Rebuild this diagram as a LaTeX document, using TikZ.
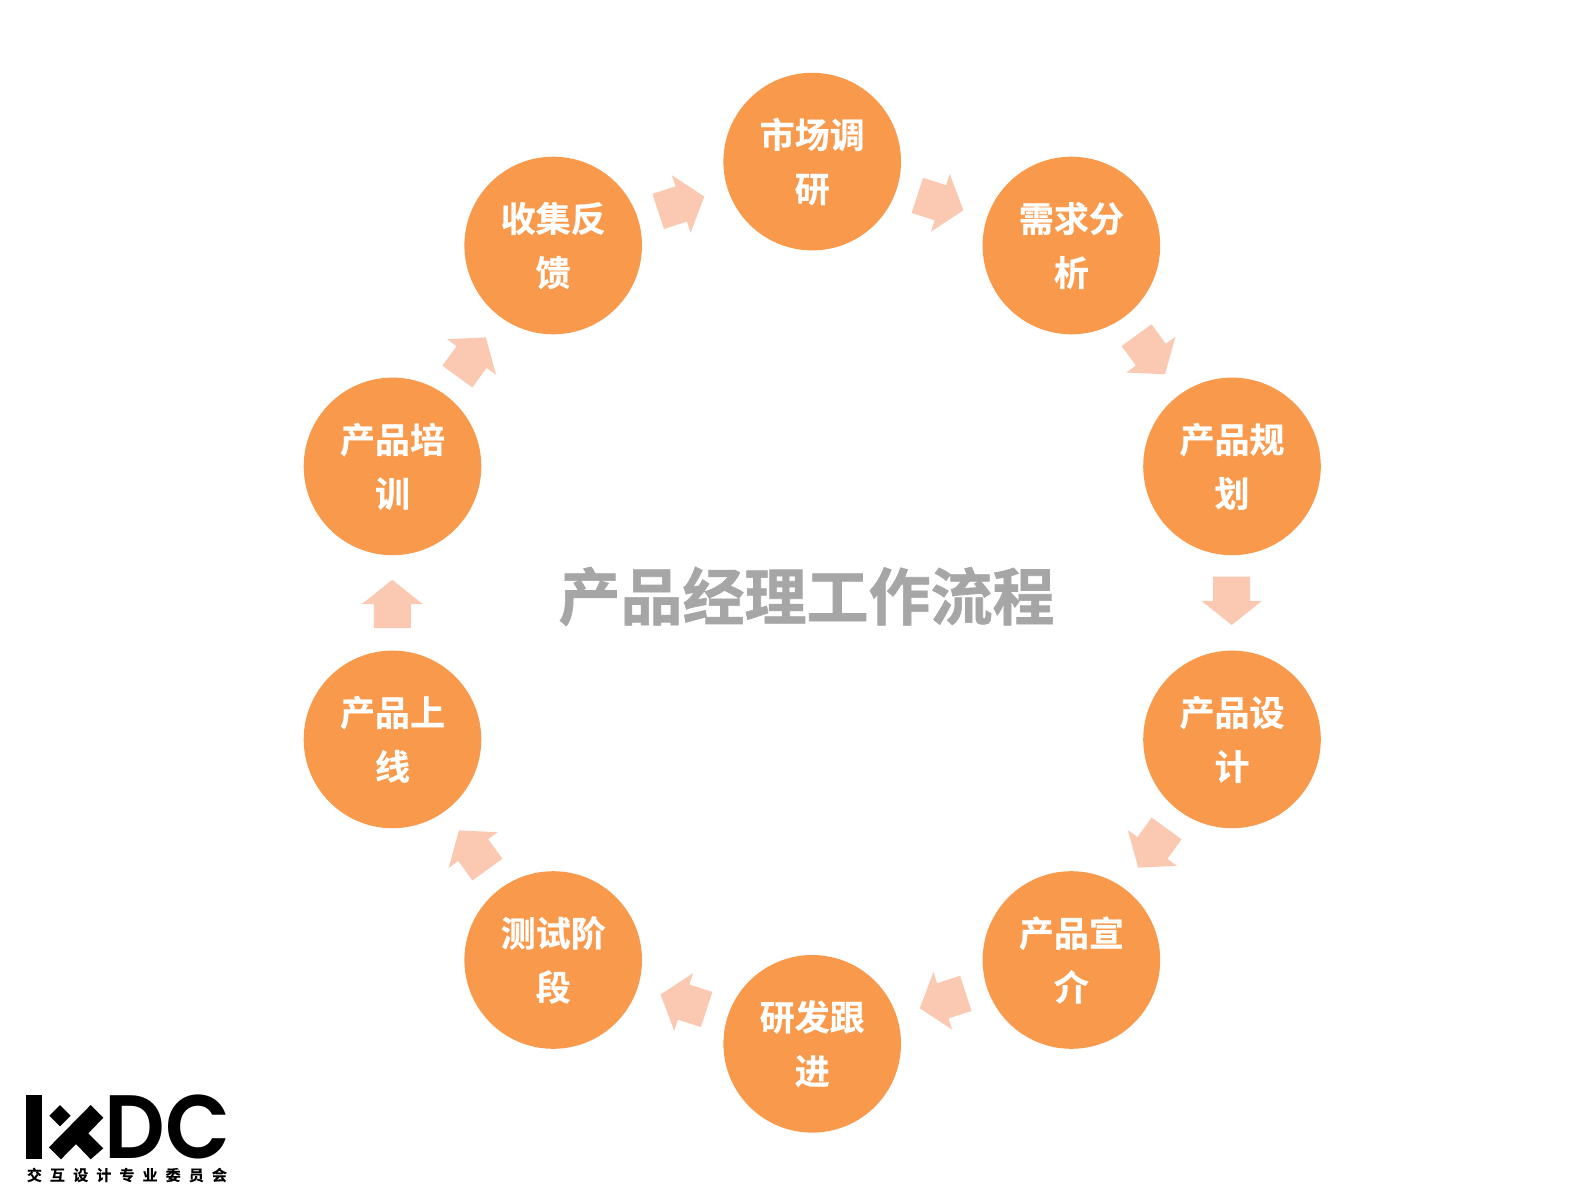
\documentclass[tikz,border=0pt]{standalone}
\usepackage{fontspec}
\setmainfont{Noto Sans CJK SC}
\newfontfamily\cjkbold{Noto Sans CJK SC Bold}[FakeBold=0.5]
\newfontfamily\cjktitle{Noto Sans CJK SC Bold}[FakeBold=1]
\newfontfamily\logofont{Poppins SemiBold}
\definecolor{orangefill}{HTML}{F9994B}
\definecolor{arrowfill}{HTML}{FBC9B1}
\definecolor{titlegray}{HTML}{A6A6A6}
\tikzset{
  stage/.style={circle,fill=orangefill,minimum size=177.6pt,inner sep=0pt,text=white,align=center,
    font=\cjkbold\fontsize{35}{54}\selectfont},
  flowarrow/.style={fill=arrowfill},
  logoink/.style={fill=black}
}
\newcommand{\flowarrowat}[3]{%
  \fill[flowarrow,shift={(#1,#2)},rotate=#3]
    (-24.2,-18.5) -- (0,-18.5) -- (0,-30.3) -- (24.2,0) -- (0,30.3) -- (0,18.5) -- (-24.2,18.5) -- cycle;}
\begin{document}
\begin{tikzpicture}[x=1pt,y=-1pt]
\useasboundingbox (0,0) rectangle (1587,1190);
\fill[white] (0,0) rectangle (1587,1190);
% stages
\node[stage] (s1) at (812.2,161.6) {市场调\\研};
\node[stage] (s2) at (1071.4,245.5) {需求分\\析};
\node[stage] (s3) at (1232,466.4) {产品规\\划};
\node[stage] (s4) at (1232,739.4) {产品设\\计};
\node[stage] (s5) at (1071.4,960) {产品宣\\介};
\node[stage] (s6) at (812.2,1043.8) {研发跟\\进};
\node[stage] (s7) at (553.2,960) {测试阶\\段};
\node[stage] (s8) at (392.5,739.4) {产品上\\线};
\node[stage] (s9) at (392.5,466.4) {产品培\\训};
\node[stage] (s10) at (553.2,245.5) {收集反\\馈};
% arrows
\flowarrowat{940.4}{202.8}{-18}
\flowarrowat{1150.8}{354.7}{-54}
\flowarrowat{1231.7}{600.8}{-90}
\flowarrowat{1152.4}{848}{-126}
\flowarrowat{942.8}{1000.8}{-162}
\flowarrowat{683.6}{1002}{-198}
\flowarrowat{473.2}{850}{-234}
\flowarrowat{392.3}{604}{-270}
\flowarrowat{471.6}{357}{-306}
\flowarrowat{681.2}{204}{-342}
% title
\node[text=titlegray,font=\cjktitle\fontsize{62}{70}\selectfont,inner sep=0pt] (title) at (806.5,596.5) {产品经理工作流程};
% logo
\fill[logoink] (26,1095) rectangle (42,1159);
\fill[logoink] (60,1105) -- (70.7,1115.7) -- (60,1126.4) -- (49.3,1115.7) -- cycle;
\fill[logoink] (90.7,1105) -- (103.3,1117.7) -- (88.3,1133.3) -- (103.3,1148.3) -- (90.7,1159.3) -- (76,1144) -- (61,1159.3) -- (49,1147.3) -- cycle;
\node[font=\logofont\fontsize{90}{90}\selectfont,inner sep=0pt,anchor=west,xscale=0.94] (logodc) at (104.5,1127) {DC};
\node[font=\cjkbold\fontsize{15}{15}\selectfont,inner sep=0pt,anchor=west] (logocn) at (26.7,1175)
  {\hbox to 200pt{交\hfil 互\hfil 设\hfil 计\hfil 专\hfil 业\hfil 委\hfil 员\hfil 会}};
\end{tikzpicture}
\end{document}
